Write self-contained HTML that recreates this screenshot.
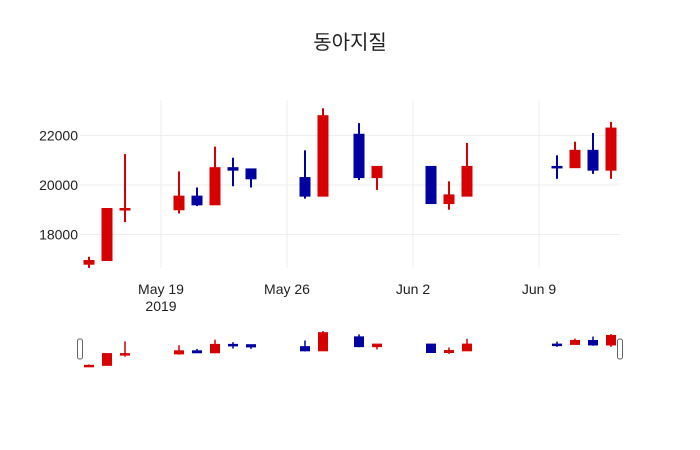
<!DOCTYPE html>
<html><head><meta charset="utf-8"><style>
html,body{margin:0;padding:0;background:#fff;}
svg{display:block;font-family:"Liberation Sans","Noto Sans CJK KR",sans-serif;}
</style></head><body>
<svg id="chart" width="700" height="450" viewBox="0 0 700 450">
<rect x="0" y="0" width="700" height="450" fill="#fff"/>
<text x="350" y="49" text-anchor="middle" font-size="20" fill="#222">동아지질</text>
<g id="grid"></g><g id="candles"></g><g id="axes"></g><g id="slider"></g>
</svg>
<script>
const dates = ["2019-05-15","2019-05-16","2019-05-17","2019-05-20","2019-05-21","2019-05-22","2019-05-23","2019-05-24","2019-05-27","2019-05-28","2019-05-30","2019-05-31","2019-06-03","2019-06-04","2019-06-05","2019-06-10","2019-06-11","2019-06-12","2019-06-13"];
const openVals = [16800,16950,19000,19000,19550,19200,20700,20650,20300,19550,22050,20300,20750,19250,19550,20750,20700,21400,20600];
const highVals = [17100,19050,21250,20550,19900,21550,21100,20650,21400,23100,22500,20750,20750,20150,21700,21200,21750,22100,22550];
const lowVals  = [16650,16950,18500,18850,19150,19200,19950,19900,19450,19550,20200,19800,19250,19000,19550,20250,20700,20450,20250];
const closeVals= [16950,19050,19050,19550,19200,20700,20600,20250,19550,22800,20300,20750,19250,19600,20750,20700,21400,20600,22300];
const yTicks = [18000,20000,22000];
const yTickLabels = ["18000","20000","22000"];
const xTicks = ["2019-05-19","2019-05-26","2019-06-02","2019-06-09"];
const xTickLabels = ["May 19","May 26","Jun 2","Jun 9"];

const NS="http://www.w3.org/2000/svg";
const DAY=86400000;
const x0=Date.UTC(2019,4,14,12);
function xs(d){const t=Date.parse(d+"T00:00:00Z");return 80+(t-x0)/DAY*18;}
function ys(v){return 185-(v-20000)*0.02475;}
const sMin=Math.min(...lowVals), sMax=Math.max(...highVals);
function ss(v){return 367-(v-sMin)/(sMax-sMin)*36;}
function mk(tag,attrs,parent){const e=document.createElementNS(NS,tag);for(const k in attrs)e.setAttribute(k,attrs[k]);parent.appendChild(e);return e;}
const grid=document.getElementById('grid'),cg=document.getElementById('candles'),ax=document.getElementById('axes'),sl=document.getElementById('slider');
yTicks.forEach((v,i)=>{
  const l=mk('line',{x1:80,x2:620,y1:ys(v),y2:ys(v),stroke:'#eee','stroke-width':1},grid);
  
  
  const t=mk('text',{x:78,y:ys(v)+5,'text-anchor':'end','font-size':14,fill:'#222'},ax);
  t.textContent=yTickLabels[i];
  
  
});
xTicks.forEach((d,i)=>{
  const x=xs(d);
  const l=mk('line',{x1:x,x2:x,y1:100,y2:268,stroke:'#eee','stroke-width':1},grid);
  
  
  const t=mk('text',{x:x,y:294,'text-anchor':'middle','font-size':14,fill:'#222'},ax);
  t.textContent=xTickLabels[i];
  
  
  if(i===0){
    const y=mk('text',{x:x,y:311,'text-anchor':'middle','font-size':14,fill:'#222'},ax);
    y.textContent="2019";
    
    
  }
});
function candle(parent,i,scale,bw,ww,name){
  const up=closeVals[i]>=openVals[i];
  const col=up?'#d60000':'#0000a0';
  const x=xs(dates[i]);
  const g=mk('g',{},parent);
  
  
  mk('line',{x1:x,x2:x,y1:scale(highVals[i]),y2:scale(lowVals[i]),stroke:col,'stroke-width':ww},g);
  const top=scale(Math.max(openVals[i],closeVals[i])),bot=scale(Math.min(openVals[i],closeVals[i]));
  mk('rect',{x:x-bw/2,y:top,width:bw,height:Math.max(bot-top,1.5),fill:col,stroke:col,'stroke-width':1},g);
}
dates.forEach((d,i)=>candle(cg,i,ys,10,2,'candle-'+d));
dates.forEach((d,i)=>candle(sl,i,ss,9,1.5,'slider-candle-'+d));
[80,620].forEach((x,i)=>{
  const h=mk('rect',{x:x-2.5,y:339,width:5,height:20,rx:2,fill:'#fff',stroke:'#666','stroke-width':1},sl);
  
  
});
</script>
</body></html>
